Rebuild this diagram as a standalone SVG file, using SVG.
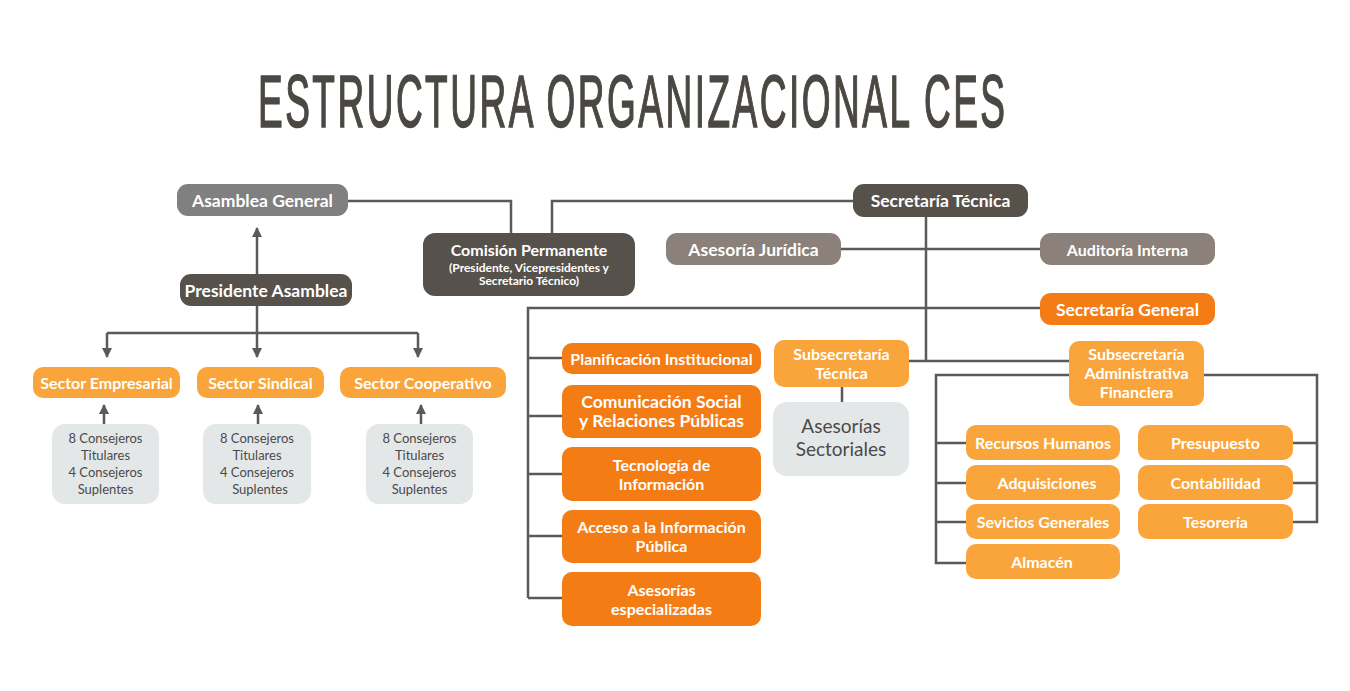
<svg xmlns="http://www.w3.org/2000/svg" width="1350" height="691" viewBox="0 0 1350 691">
<defs>
<marker id="ah" viewBox="0 0 10 10" refX="9" refY="5" markerWidth="11" markerHeight="10" markerUnits="userSpaceOnUse" orient="auto">
<path d="M0,0 L10,5 L0,10 z" fill="#5a5a5a"/>
</marker>
<style>
.t{font-family:Lato,"Liberation Sans",sans-serif;font-weight:bold;fill:#ffffff;text-anchor:middle;font-size:16px}
.b{font-size:17.5px}
.s{font-size:12px}
.g{font-family:Lato,"Liberation Sans",sans-serif;fill:#4a4a4a;text-anchor:middle;font-size:13px}
.gl{font-size:19px}
.gray{fill:#808080}
.dark{fill:#57514b}
.brown{fill:#8b817a}
.deep{fill:#f47c14}
.light{fill:#f9a53b}
.pale{fill:#e4e7e8}
.c{fill:none;stroke:#5a5a5a;stroke-width:2.5}
</style>
</defs>
<rect width="1350" height="691" fill="#ffffff"/>
<text transform="translate(258,127) scale(0.5,1)" x="0" y="0" font-family="Liberation Sans,sans-serif" font-size="74" letter-spacing="5" fill="#4b4843" stroke="#4b4843" stroke-width="1.6">ESTRUCTURA ORGANIZACIONAL CES</text>

<g id="connectors">
<path class="c" d="M348,201 H511 V233"/>
<path class="c" d="M552,233 V201 H853"/>
<path class="c" d="M257,274 V228" marker-end="url(#ah)"/>
<path class="c" d="M257,306 V333 M107,333 H418"/>
<path class="c" d="M107,333 V357" marker-end="url(#ah)"/>
<path class="c" d="M257,333 V357" marker-end="url(#ah)"/>
<path class="c" d="M418,333 V357" marker-end="url(#ah)"/>
<path class="c" d="M104,424 V405" marker-end="url(#ah)"/>
<path class="c" d="M258,424 V405" marker-end="url(#ah)"/>
<path class="c" d="M421,424 V405" marker-end="url(#ah)"/>
<path class="c" d="M926,217 V361"/>
<path class="c" d="M841,249 H1040"/>
<path class="c" d="M528,598 V308 H1040"/>
<path class="c" d="M528,358 H562 M528,416 H562 M528,474 H562 M528,536 H562 M528,598 H562"/>
<path class="c" d="M909,361 H1069"/>
<path class="c" d="M842,387 V402"/>
<path class="c" d="M1069,375 H936 V563 H966 M936,443 H966 M936,483 H966 M936,522 H966"/>
<path class="c" d="M1204,375 H1317 V522 H1293 M1317,443 H1293 M1317,483 H1293"/>
</g>

<g id="asamblea-general"><rect class="gray" x="177" y="184" width="171" height="32" rx="11"/><text class="t b" x="262.5" y="206.5">Asamblea General</text></g>
<g id="presidente-asamblea"><rect class="dark" x="180" y="274" width="172" height="32" rx="11"/><text class="t b" x="266" y="296.5">Presidente Asamblea</text></g>
<g id="sector-empresarial"><rect class="light" x="33" y="367" width="147" height="31" rx="10"/><text class="t" x="106.5" y="388.5">Sector Empresarial</text></g>
<g id="sector-sindical"><rect class="light" x="197" y="367" width="127" height="31" rx="10"/><text class="t" x="260.5" y="388.5">Sector Sindical</text></g>
<g id="sector-cooperativo"><rect class="light" x="340" y="367" width="166" height="31" rx="10"/><text class="t" x="423" y="388.5">Sector Cooperativo</text></g>
<g id="consejeros-empresarial"><rect class="pale" x="52" y="424" width="107" height="80" rx="13"/><text class="g" x="105.5" y="443">8 Consejeros</text><text class="g" x="105.5" y="460">Titulares</text><text class="g" x="105.5" y="477">4 Consejeros</text><text class="g" x="105.5" y="494">Suplentes</text></g>
<g id="consejeros-sindical"><rect class="pale" x="203" y="424" width="108" height="80" rx="13"/><text class="g" x="257" y="443">8 Consejeros</text><text class="g" x="257" y="460">Titulares</text><text class="g" x="257" y="477">4 Consejeros</text><text class="g" x="260" y="494">Suplentes</text></g>
<g id="consejeros-cooperativo"><rect class="pale" x="366" y="424" width="107" height="80" rx="13"/><text class="g" x="419.5" y="443">8 Consejeros</text><text class="g" x="419.5" y="460">Titulares</text><text class="g" x="419.5" y="477">4 Consejeros</text><text class="g" x="419.5" y="494">Suplentes</text></g>

<g id="comision-permanente"><rect class="dark" x="423" y="233" width="212" height="63" rx="12"/><text class="t" x="529" y="255.5">Comisión Permanente</text><text class="t s" x="529" y="271.5">(Presidente, Vicepresidentes y</text><text class="t s" x="529" y="284.5">Secretario Técnico)</text></g>
<g id="secretaria-tecnica"><rect class="dark" x="853" y="184" width="175" height="33" rx="11"/><text class="t b" x="940.5" y="207">Secretaría Técnica</text></g>
<g id="asesoria-juridica"><rect class="brown" x="666" y="233" width="175" height="32" rx="11"/><text class="t b" x="753.5" y="255.5">Asesoría Jurídica</text></g>
<g id="auditoria-interna"><rect class="brown" x="1040" y="233" width="175" height="32" rx="11"/><text class="t" x="1127.5" y="255.5">Auditoría Interna</text></g>
<g id="secretaria-general"><rect class="deep" x="1040" y="293" width="175" height="32" rx="11"/><text class="t b" x="1127.5" y="315.5">Secretaría General</text></g>

<g id="planificacion"><rect class="deep" x="562" y="343" width="199" height="31" rx="10"/><text class="t" x="661.5" y="364.5">Planificación Institucional</text></g>
<g id="comunicacion"><rect class="deep" x="562" y="385" width="199" height="53" rx="10"/><text class="t b" x="661.5" y="408">Comunicación Social</text><text class="t b" x="661.5" y="427">y Relaciones Públicas</text></g>
<g id="tecnologia"><rect class="deep" x="562" y="447" width="199" height="54" rx="10"/><text class="t" x="661.5" y="470.5">Tecnología de</text><text class="t" x="661.5" y="489.5">Información</text></g>
<g id="acceso"><rect class="deep" x="562" y="510" width="199" height="53" rx="10"/><text class="t" x="661.5" y="533">Acceso a la Información</text><text class="t" x="661.5" y="552">Pública</text></g>
<g id="asesorias-especializadas"><rect class="deep" x="562" y="572" width="199" height="54" rx="10"/><text class="t" x="661.5" y="595.5">Asesorías</text><text class="t" x="661.5" y="614.5">especializadas</text></g>

<g id="subsecretaria-tecnica"><rect class="light" x="774" y="340" width="135" height="47" rx="10"/><text class="t" x="841.5" y="360">Subsecretaría</text><text class="t" x="841.5" y="379">Técnica</text></g>
<g id="asesorias-sectoriales"><rect class="pale" x="773" y="402" width="136" height="74" rx="14"/><text class="g gl" x="841" y="433">Asesorías</text><text class="g gl" x="841" y="456">Sectoriales</text></g>

<g id="subsecretaria-administrativa"><rect class="light" x="1069" y="341" width="135" height="65" rx="10"/><text class="t" x="1136.5" y="360">Subsecretaría</text><text class="t" x="1136.5" y="379">Administrativa</text><text class="t" x="1136.5" y="398">Financiera</text></g>
<g id="recursos-humanos"><rect class="light" x="966" y="425" width="154" height="35" rx="10"/><text class="t" x="1043" y="448.5">Recursos Humanos</text></g>
<g id="adquisiciones"><rect class="light" x="966" y="465" width="154" height="35" rx="10"/><text class="t" x="1047" y="488.5">Adquisiciones</text></g>
<g id="servicios-generales"><rect class="light" x="966" y="504" width="154" height="35" rx="10"/><text class="t" x="1043" y="527.5">Sevicios Generales</text></g>
<g id="almacen"><rect class="light" x="966" y="544" width="154" height="35" rx="10"/><text class="t" x="1042" y="567.5">Almacén</text></g>
<g id="presupuesto"><rect class="light" x="1138" y="425" width="155" height="35" rx="10"/><text class="t" x="1215.5" y="448.5">Presupuesto</text></g>
<g id="contabilidad"><rect class="light" x="1138" y="465" width="155" height="35" rx="10"/><text class="t" x="1215.5" y="488.5">Contabilidad</text></g>
<g id="tesoreria"><rect class="light" x="1138" y="504" width="155" height="35" rx="10"/><text class="t" x="1215.5" y="527.5">Tesorería</text></g>
</svg>
